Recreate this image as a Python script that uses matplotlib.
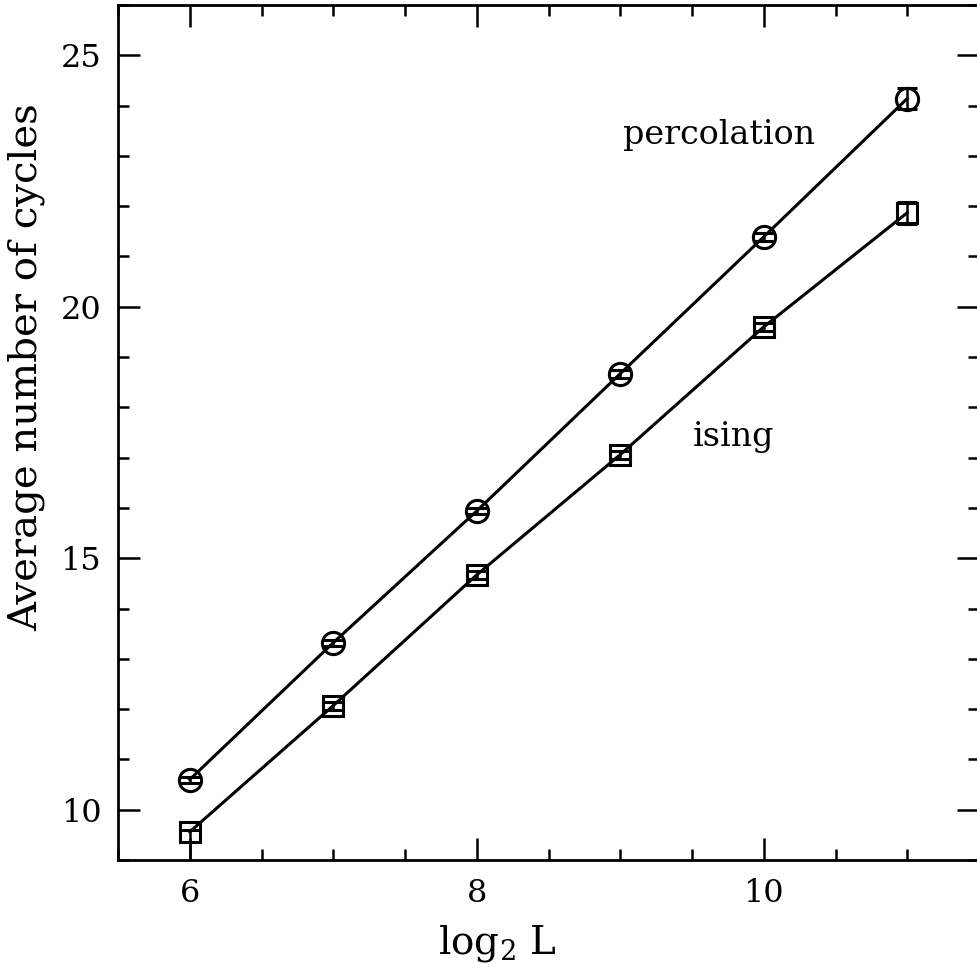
import matplotlib
matplotlib.use("Agg")
import matplotlib.pyplot as plt
from matplotlib.ticker import MultipleLocator

plt.rcParams['font.family'] = ['DejaVu Serif']
plt.rcParams['mathtext.fontset'] = 'dejavuserif'

log2L = [6, 7, 8, 9, 10, 11]
perc = [10.60, 13.32, 15.94, 18.67, 21.39, 24.14]
perc_err = [0.06, 0.06, 0.06, 0.08, 0.08, 0.20]
ising = [9.56, 12.07, 14.67, 17.06, 19.60, 21.87]
ising_err_lo = [1.2, 0.08, 0.08, 0.08, 0.08, 0.22]
ising_err_hi = [0.04, 0.08, 0.08, 0.08, 0.08, 0.22]

fig = plt.figure(figsize=(9.77, 9.74), dpi=100)
ax = fig.add_axes([118/977, 1-860/974, 861/977, 855/974])

ax.plot(log2L, perc, '-', color='black', lw=2.2)
ax.plot(log2L, ising, '-', color='black', lw=2.2)
ax.errorbar(log2L, perc, yerr=perc_err, fmt='o', mfc='none', mec='black',
            ms=16, mew=2.2, ecolor='black', elinewidth=1.8, capsize=7, capthick=1.8)
ax.errorbar(log2L, ising, yerr=[ising_err_lo, ising_err_hi], fmt='s', mfc='none', mec='black',
            ms=15, mew=2.2, ecolor='black', elinewidth=1.8, capsize=7, capthick=1.8)

ax.text(9.02, 23.42, 'percolation', fontsize=24, va='center', ha='left')
ax.text(9.505, 17.42, 'ising', fontsize=24, va='center', ha='left')

ax.set_xlim(5.5, 11.5)
ax.set_ylim(9, 26)
ax.xaxis.set_major_locator(MultipleLocator(2))
ax.xaxis.set_minor_locator(MultipleLocator(0.5))
ax.yaxis.set_major_locator(MultipleLocator(5))
ax.yaxis.set_minor_locator(MultipleLocator(1))
ax.tick_params(which='both', direction='in', top=True, right=True, width=1.8, labelsize=23)
ax.tick_params(which='major', length=16)
ax.tick_params(which='minor', length=8)
ax.tick_params(axis='x', pad=13)
ax.tick_params(axis='y', pad=12)
for s in ax.spines.values():
    s.set_linewidth(2)

ax.set_xlabel(r'log$_2$ L', fontsize=28)
ax.set_ylabel('Average number of cycles', fontsize=29)
ax.xaxis.set_label_coords(0.44, -0.074)
ax.yaxis.set_label_coords(-0.085, 0.577)

fig.savefig('out.png', dpi=100)
